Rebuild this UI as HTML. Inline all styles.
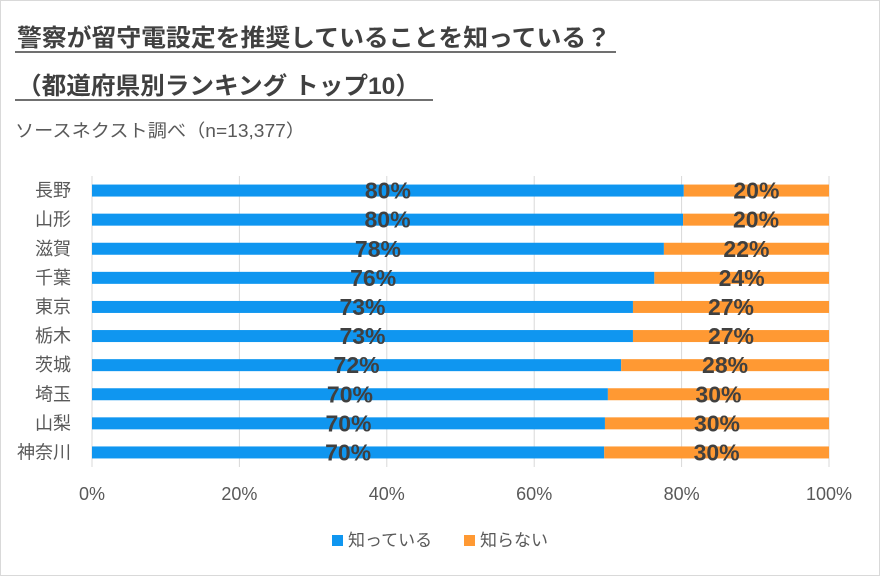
<!DOCTYPE html>
<html><head><meta charset="utf-8"><style>
body{margin:0;background:#fff}
svg{display:block;font-family:"Liberation Sans","Noto Sans CJK JP",sans-serif}
</style></head><body>
<svg id="chart" width="880" height="576" viewBox="0 0 880 576">
<rect x="0.5" y="0.5" width="879" height="575" fill="#fff" stroke="#d9d9d9"/>
<text x="17" y="46" font-size="24" font-weight="bold" fill="#404040" textLength="594" lengthAdjust="spacingAndGlyphs">警察が留守電設定を推奨していることを知っている？</text>
<line x1="15" y1="52" x2="616" y2="52" stroke="#404040" stroke-width="1.5"/>
<text x="17" y="94" font-size="24" font-weight="bold" fill="#404040" textLength="403" lengthAdjust="spacingAndGlyphs">（都道府県別ランキング トップ10）</text>
<line x1="15" y1="100" x2="433" y2="100" stroke="#404040" stroke-width="1.5"/>
<text x="15" y="137" font-size="18" fill="#595959" textLength="290" lengthAdjust="spacingAndGlyphs">ソースネクスト調べ（n=13,377）</text>
<g id="grid"></g><g id="bars"></g><g id="labels"></g>
<g>
<rect x="332" y="535" width="11" height="11" fill="#0f96f0"/>
<text x="348" y="546" font-size="17" fill="#595959">知っている</text>
<rect x="464" y="535" width="11" height="11" fill="#ff9933"/>
<text x="480" y="546" font-size="17" fill="#595959">知らない</text>
</g>
</svg>
<script>
const categories=["長野","山形","滋賀","千葉","東京","栃木","茨城","埼玉","山梨","神奈川"];
const knowValues=[80.3,80.2,77.6,76.3,73.4,73.4,71.8,70.0,69.6,69.5];
const knowLabels=["80%","80%","78%","76%","73%","73%","72%","70%","70%","70%"];
const dontLabels=["20%","20%","22%","24%","27%","27%","28%","30%","30%","30%"];
const ticks=[0,20,40,60,80,100];
const NS="http://www.w3.org/2000/svg";
const x0=92,x1=829,yTop=176,rowH=29.1;
function xs(v){return x0+(x1-x0)*v/100;}
function yc(i){return yTop+rowH*(i+0.5);}
function mk(tag,attrs,parent){const e=document.createElementNS(NS,tag);for(const k in attrs)e.setAttribute(k,attrs[k]);parent.appendChild(e);return e;}
const grid=document.getElementById('grid'),bars=document.getElementById('bars'),labels=document.getElementById('labels');
ticks.forEach(t=>{
 const l=mk('line',{x1:xs(t),x2:xs(t),y1:yTop,y2:yTop+rowH*categories.length,stroke:'#d9d9d9'},grid);
 
 
 const tx=mk('text',{x:xs(t),y:500,'font-size':18,fill:'#595959','text-anchor':'middle'},grid);
 tx.textContent=t+'%';
 
 
});
categories.forEach((c,i)=>{
 const y=yc(i),v=knowValues[i];
 const cl=mk('text',{x:71,y:y+6,'font-size':18,fill:'#595959','text-anchor':'end'},labels);
 cl.textContent=c;
 
 
 const b=mk('rect',{x:xs(0),y:y-6,width:xs(v)-xs(0),height:12,fill:'#0f96f0'},bars);
 
 
 const o=mk('rect',{x:xs(v),y:y-6,width:xs(100)-xs(v),height:12,fill:'#ff9933'},bars);
 
 
 const t1=mk('text',{x:(xs(0)+xs(v))/2,y:y+8,'font-size':23,'font-weight':'bold',fill:'#404040','text-anchor':'middle'},labels);
 t1.textContent=knowLabels[i];
 
 
 const t2=mk('text',{x:(xs(v)+xs(100))/2,y:y+8,'font-size':23,'font-weight':'bold',fill:'#404040','text-anchor':'middle'},labels);
 t2.textContent=dontLabels[i];
 
 
});
</script>
</body></html>
